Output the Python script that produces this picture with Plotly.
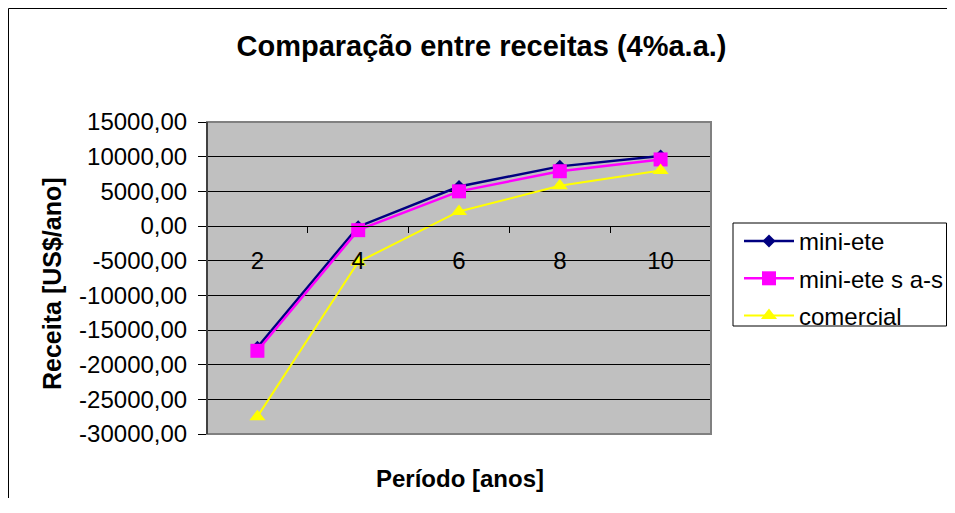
import plotly.graph_objects as go

periodos = [2, 4, 6, 8, 10]
mini_ete = [-17500, -100, 5700, 8600, 10100]
mini_ete_sas = [-18000, -600, 5000, 7900, 9600]
comercial = [-27500, -5200, 2100, 5800, 8000]

y_ticks = [15000, 10000, 5000, 0, -5000, -10000, -15000, -20000, -25000, -30000]
y_ticktext = [f"{v:.2f}".replace(".", ",") for v in y_ticks]
x_ticklabels = [str(p) for p in periodos]

FONT = "Arial, Liberation Sans, sans-serif"
OFF = 8  # page body margin
W, H = 939, 490
ML, MT = 207 - OFF, 122 - OFF
PW, PH = 711 - 207, 434 - 122
MR, MB = W - ML - PW, H - MT - PH

ymin, ymax = -30000, 15000
xmin, xmax = 1, 11


def px(xp):  # page x -> paper fraction
    return (xp - OFF - ML) / PW


def py(yp):  # page y -> paper fraction
    return (MT + PH - (yp - OFF)) / PH


fig = go.Figure()
fig.add_trace(go.Scatter(x=periodos, y=mini_ete, name="mini-ete", mode="lines+markers",
                         legendgroup="a",
                         line=dict(color="#000080", width=2.5),
                         marker=dict(symbol="diamond", size=10, color="#000080")))
fig.add_trace(go.Scatter(x=periodos, y=mini_ete_sas, name="mini-ete s a-s", mode="lines+markers",
                         legendgroup="b",
                         line=dict(color="#FF00FF", width=2.5),
                         marker=dict(symbol="square", size=14, color="#FF00FF")))
fig.add_trace(go.Scatter(x=periodos, y=comercial, name="comercial", mode="lines+markers",
                         legendgroup="c",
                         line=dict(color="#FFFF00", width=2),
                         marker=dict(symbol="triangle-up", size=14, color="#FFFF00")))

zero_pos = (0 - ymin) / (ymax - ymin)

fig.update_layout(
    width=W, height=H,
    margin=dict(l=ML, r=MR, t=MT, b=MB, autoexpand=False),
    paper_bgcolor="white",
    plot_bgcolor="#C0C0C0",
    font=dict(family=FONT, size=24, color="black"),
    title=dict(text="<b>Comparação entre receitas (4%a.a.)</b>",
               x=(481.5 - OFF) / W, xanchor="center", xref="container",
               y=1 - (46 - OFF) / H, yanchor="middle", yref="container",
               font=dict(family=FONT, size=29, color="black")),
    xaxis=dict(range=[xmin, xmax], tickvals=periodos, ticktext=x_ticklabels,
               anchor="free", position=zero_pos,
               showline=True, linecolor="black", linewidth=1,
               ticks="", showgrid=False, zeroline=False,
               ticklabelstandoff=13,
               minor=dict(tickvals=[3, 5, 7, 9, 11], ticks="outside", ticklen=6,
                          tickcolor="black", tickwidth=1, showgrid=False),
               tickfont=dict(family=FONT, size=24, color="black")),
    yaxis=dict(range=[ymin, ymax], tickvals=y_ticks, ticktext=y_ticktext,
               showline=True, linecolor="black", linewidth=1,
               ticks="outside", ticklen=8, tickcolor="black",
               ticklabelstandoff=6,
               showgrid=True, gridcolor="black", gridwidth=1, zeroline=False,
               tickfont=dict(family=FONT, size=24, color="black")),
    legend=dict(x=px(739), y=py(219), xanchor="left", yanchor="top",
                borderwidth=0, bgcolor="rgba(0,0,0,0)",
                font=dict(family=FONT, size=24, color="black"),
                traceorder="grouped", tracegroupgap=3, itemwidth=50),
    showlegend=True,
)

# plot-area frame (gray)
fig.add_shape(type="rect", xref="paper", yref="paper", x0=0, x1=1, y0=0, y1=1,
              line=dict(color="#808080", width=2), layer="above")
# left axis line black on top
fig.add_shape(type="line", xref="paper", yref="paper", x0=0, x1=0, y0=0, y1=1,
              line=dict(color="black", width=1), layer="above")
# outer chart border (left and top edges)
fig.add_shape(type="line", xref="paper", yref="paper",
              x0=px(8.5), x1=px(8.5), y0=py(8.5), y1=py(OFF + H),
              line=dict(color="black", width=1))
fig.add_shape(type="line", xref="paper", yref="paper",
              x0=px(8.5), x1=px(OFF + W), y0=py(8.5), y1=py(8.5),
              line=dict(color="black", width=1))
# legend box
fig.add_shape(type="rect", xref="paper", yref="paper",
              x0=px(733), x1=px(946.5), y0=py(326), y1=py(223),
              line=dict(color="black", width=1), fillcolor="white", layer="below")

fig.add_annotation(text="<b>Receita [US$/ano]</b>", xref="paper", yref="paper",
                   x=px(52), y=py(284), textangle=-90,
                   showarrow=False, xanchor="center", yanchor="middle",
                   font=dict(family=FONT, size=25, color="black"))
fig.add_annotation(text="<b>Período [anos]</b>", xref="paper", yref="paper",
                   x=px(460), y=py(478),
                   showarrow=False, xanchor="center", yanchor="middle",
                   font=dict(family=FONT, size=24, color="black"))

fig.write_html("out.html")
